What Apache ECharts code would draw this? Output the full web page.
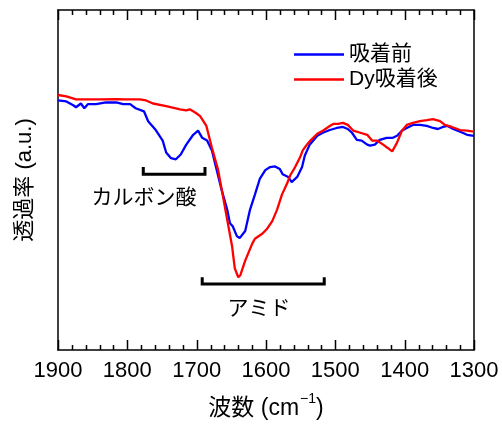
<!DOCTYPE html>
<html>
<head>
<meta charset="utf-8">
<script src="https://cdn.jsdelivr.net/npm/echarts@6/dist/echarts.min.js"></script>
<style>html,body{margin:0;padding:0;background:#fff;}#c{width:502px;height:425px;}</style>
</head>
<body>
<div id="c"></div>
<script>
// Wavenumber (cm^-1) and transmittance (a.u.) for each spectrum
var blueWn = [1900,1888,1878,1874,1867,1862,1857,1845,1831,1816,1806,1796,1788,1776,1770,1759,1749,1744,1737,1730,1723,1715,1705,1698,1692,1685,1678,1671,1664,1656,1652,1648,1642,1638,1630,1623,1616,1609,1601,1594,1587,1580,1576,1568,1563,1555,1548,1544,1537,1526,1518,1508,1498,1489,1482,1476,1469,1462,1454,1450,1443,1436,1426,1417,1411,1404,1397,1388,1378,1368,1359,1352,1345,1338,1330,1320,1310,1300];
var blueT  = [73.4,73.1,72.0,71.4,72.5,71.1,72.3,72.3,72.8,72.8,72.3,72.3,71.1,70.2,67.3,64.7,61.6,58.1,56.4,56.1,57.5,60.4,63.3,64.5,62.4,61.6,58.7,52.9,47.1,41.3,37.3,36.4,33.5,32.9,35.0,41.3,45.7,50.3,52.9,53.8,54.0,53.2,51.7,50.9,49.4,50.9,53.8,57.2,60.4,63.0,63.9,64.7,65.3,65.6,65.0,63.9,61.8,61.6,60.4,60.1,60.4,61.8,62.4,62.4,63.0,64.5,65.3,66.2,66.2,65.9,65.3,65.0,65.6,65.9,65.0,64.2,63.3,63.0];
var redWn = [1900,1888,1874,1860,1839,1816,1802,1782,1773,1763,1744,1730,1724,1715,1710,1701,1695,1686,1678,1669,1662,1655,1649,1645,1640,1637,1630,1620,1616,1606,1599,1591,1584,1577,1570,1565,1558,1551,1547,1541,1536,1526,1518,1508,1503,1496,1489,1482,1474,1464,1454,1447,1440,1431,1425,1418,1411,1404,1397,1388,1378,1368,1359,1349,1342,1332,1320,1310,1300];
var redT  = [75.0,74.6,73.7,73.7,73.7,73.8,73.7,73.7,73.4,72.5,71.7,71.1,70.8,70.5,70.8,69.7,68.8,65.9,59.5,52.9,45.1,37.3,30.6,24.0,21.4,22.0,26.3,31.2,32.7,34.1,35.5,37.9,41.3,45.7,48.8,51.4,53.8,56.6,58.7,60.4,61.6,63.6,64.5,65.9,66.5,66.5,66.8,66.2,64.5,63.9,63.3,61.6,61.6,60.4,59.5,58.4,61.0,64.5,66.2,66.8,67.3,67.6,67.9,67.3,66.2,65.6,64.7,64.5,64.2];
var seriesNames = ['吸着前', 'Dy吸着後'];
var xTicks = [1900,1800,1700,1600,1500,1400,1300];
var minorTicks = [1880,1860,1840,1820,1780,1760,1740,1720,1680,1660,1640,1620,1580,1560,1540,1520,1480,1460,1440,1420,1380,1360,1340,1320];
// Bracket annotations: [start wn, end wn, line level, tick top level, label wn, label level]
var bracketNames = ['カルボン酸', 'アミド'];
var bracketData = [
  [1777, 1688, 51.7, 53.8, 1776, 44.5],
  [1692, 1516, 19.4, 21.4, 1610, 12.1]
];

function pairs(xs, ys){ return xs.map(function(x,i){ return [x, ys[i]]; }); }

// tick rows: [wavenumber, bottom level, top level, is major]
var tickRows = xTicks.map(function(v){ return [v, 0, 100, 1]; })
  .concat(minorTicks.map(function(v){ return [v, 0, 100, 0]; }));

var FONT = "'Liberation Sans', 'Noto Sans CJK JP', sans-serif";
var chart = echarts.init(document.getElementById('c'), null, {renderer:'canvas'});

function xAxisDef(pos, labels){
  var a = {
    type: 'value', min: 1300, max: 1900, interval: 100, inverse: true, position: pos,
    axisLine: {show: true, onZero: false, lineStyle: {color: '#000', width: 1.5}},
    axisTick: {show: false}, minorTick: {show: false},
    splitLine: {show: false}, minorSplitLine: {show: false},
    axisLabel: {show: labels, fontSize: 22, color: '#000', margin: 10, fontFamily: FONT,
      formatter: function(v){ return xTicks.indexOf(v) >= 0 ? String(v) : ''; }}
  };
  if (labels) {
    a.name = '{a|波数 (cm}{s|−1}{a|)}';
    a.nameLocation = 'middle';
    a.nameGap = 42;
    a.nameTextStyle = {rich: {
      a: {fontSize: 23, color: '#000', fontFamily: FONT, verticalAlign: 'bottom', lineHeight: 28},
      s: {fontSize: 14, color: '#000', fontFamily: FONT, verticalAlign: 'top', lineHeight: 28, padding: [0,0,0,1]}
    }};
  }
  return a;
}
function yAxisDef(pos, named){
  var a = {
    type: 'value', min: 0, max: 100, position: pos,
    axisLine: {show: true, onZero: false, lineStyle: {color: '#000', width: 1.5}},
    axisTick: {show: false}, axisLabel: {show: false}, splitLine: {show: false}
  };
  if (named) {
    a.name = '透過率 (a.u.)';
    a.nameLocation = 'middle';
    a.nameGap = 22;
    a.nameRotate = 90;
    a.nameTextStyle = {fontSize: 22, color: '#000', fontFamily: FONT};
  }
  return a;
}

chart.setOption({
  animation: false,
  backgroundColor: '#fff',
  textStyle: {fontFamily: FONT},
  grid: {left: 58, right: 28, top: 10, bottom: 69},
  legend: {
    data: seriesNames, orient: 'vertical', left: 289, top: 39,
    icon: 'rect', itemWidth: 50, itemHeight: 2.5, itemGap: 4,
    textStyle: {fontSize: 21, color: '#000', fontFamily: FONT, lineHeight: 20}
  },
  xAxis: [xAxisDef('bottom', true), xAxisDef('top', false)],
  yAxis: [yAxisDef('left', true), yAxisDef('right', false)],
  series: [
    {name: seriesNames[0], type: 'line', data: pairs(blueWn, blueT), showSymbol: false, symbol: 'none',
     lineStyle: {color: '#0000ff', width: 2.3}, itemStyle: {color: '#0000ff'}},
    {name: seriesNames[1], type: 'line', data: pairs(redWn, redT), showSymbol: false, symbol: 'none',
     lineStyle: {color: '#ff0000', width: 2.3}, itemStyle: {color: '#ff0000'}},
    {type: 'custom', data: bracketData, silent: true,
     encode: {x: [0, 1, 4], y: [2, 3, 5]},
     renderItem: function(params, api){
       var d = bracketData[params.dataIndex];
       var a = api.coord([d[0], d[2]]), b = api.coord([d[1], d[2]]);
       var t = api.coord([d[0], d[3]]);
       var lp = api.coord([d[4], d[5]]);
       return {type: 'group', children: [
         {type: 'polyline', shape: {points: [[a[0], t[1]], [a[0], a[1]], [b[0], b[1]], [b[0], t[1]]]},
          style: {stroke: '#000', lineWidth: 3, fill: null}},
         {type: 'text', x: lp[0], y: lp[1],
          style: {text: bracketNames[params.dataIndex], fontSize: 21, fontFamily: FONT, fill: '#000',
                  align: 'center', verticalAlign: 'middle'}}
       ]};
     }},
    {type: 'custom', data: tickRows, silent: true, clip: false, z: 10,
     encode: {x: [0], y: [1, 2]},
     renderItem: function(params, api){
       var d = tickRows[params.dataIndex];
       var len = d[3] ? 10 : 5;
       var pb = api.coord([d[0], d[1]]);
       var pt = api.coord([d[0], d[2]]);
       var x = Math.round(pb[0]) + 0.5;
       return {type: 'group', children: [
         {type: 'polyline', shape: {points: [[x, pb[1]], [x, pb[1] - len]]},
          style: {stroke: '#000', lineWidth: 1.5, fill: null}},
         {type: 'polyline', shape: {points: [[x, pt[1]], [x, pt[1] + len]]},
          style: {stroke: '#000', lineWidth: 1.5, fill: null}}
       ]};
     }}
  ]
});
</script>
</body>
</html>
